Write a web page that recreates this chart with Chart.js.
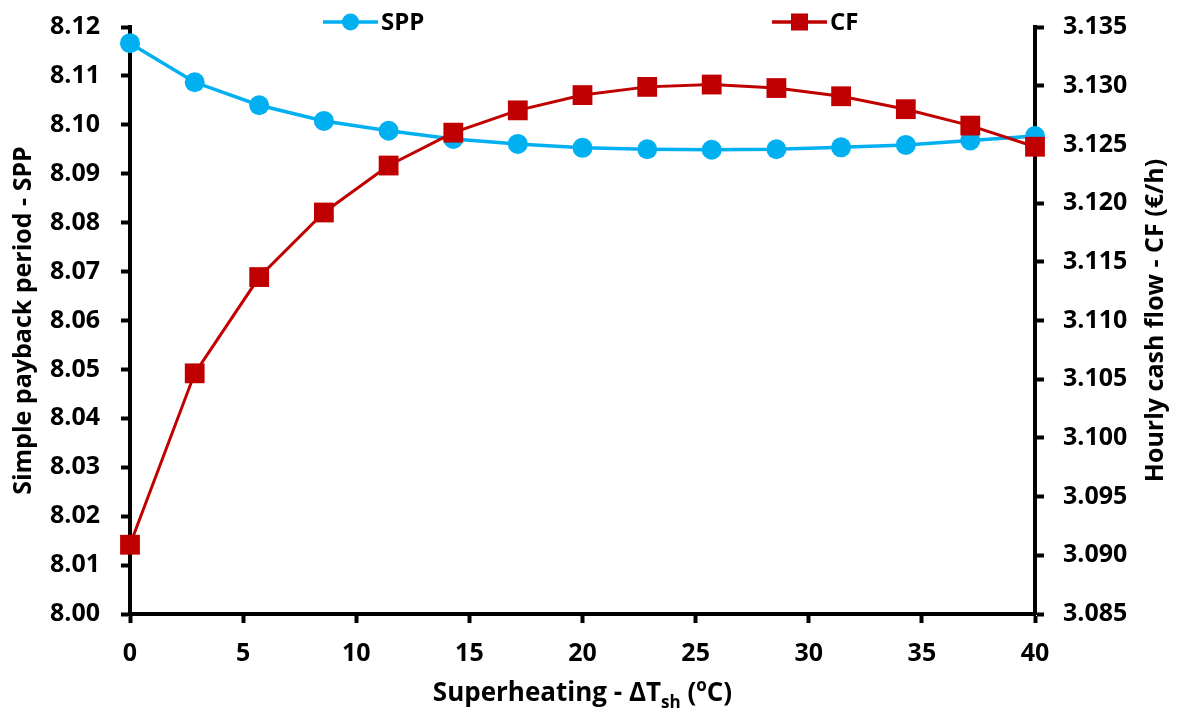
<!DOCTYPE html>
<html>
<head>
<meta charset="utf-8">
<script src="https://cdn.jsdelivr.net/npm/chart.js@4.4.1/dist/chart.umd.min.js"></script>
<style>
  html, body { margin: 0; padding: 0; background: #ffffff; }
  #wrap { width: 1178px; height: 709px; position: relative; }
</style>
</head>
<body>
<div id="wrap"><canvas id="chart" width="1178" height="709"></canvas></div>
<script>
const superheating = [0, 2.86, 5.71, 8.57, 11.43, 14.29, 17.14, 20, 22.86, 25.71, 28.57, 31.43, 34.29, 37.14, 40];
const sppValues = [8.1167, 8.1087, 8.1040, 8.1008, 8.0988, 8.0971, 8.0961, 8.0953, 8.0950, 8.0949, 8.0950, 8.0954, 8.0959, 8.0968, 8.0977];
const cfValues = [3.0909, 3.1055, 3.1137, 3.1192, 3.1232, 3.1260, 3.1279, 3.1292, 3.1299, 3.1301, 3.1298, 3.1291, 3.1280, 3.1266, 3.1248];
const xTicks = [0, 5, 10, 15, 20, 25, 30, 35, 40];
const sppTicks = [8.00, 8.01, 8.02, 8.03, 8.04, 8.05, 8.06, 8.07, 8.08, 8.09, 8.10, 8.11, 8.12];
const cfTicks = [3.085, 3.090, 3.095, 3.100, 3.105, 3.110, 3.115, 3.120, 3.125, 3.130, 3.135];

const BLUE = "#00b0f0";
const RED = "#c00000";
const FONT = "'Open Sans', sans-serif";

const toPoints = (values) => values.map((value, index) => ({ x: superheating[index], y: value }));

const axisLook = {
  border: { display: true, color: "#000000", width: 4 },
  grid: { display: true, drawOnChartArea: false, drawTicks: true, tickLength: 9, tickWidth: 4, tickColor: "#000000" },
};

function fitVertical(width) {
  return (scale) => {
    scale.width = width;
    scale.paddingTop = 27;
    scale.paddingBottom = 0;
  };
}

const annotations = {
  id: "annotations",
  afterDraw(chart) {
    const ctx = chart.ctx;
    const area = chart.chartArea;
    ctx.save();
    ctx.fillStyle = "#000000";
    ctx.textBaseline = "middle";

    // legend
    const legendItems = [
      { label: "SPP", color: BLUE, shape: "circle", from: 323, to: 378 },
      { label: "CF", color: RED, shape: "square", from: 772, to: 827 },
    ];
    legendItems.forEach((item) => {
      const y = 22;
      const mid = (item.from + item.to) / 2;
      ctx.strokeStyle = item.color;
      ctx.lineWidth = 3.5;
      ctx.beginPath();
      ctx.moveTo(item.from, y);
      ctx.lineTo(item.to, y);
      ctx.stroke();
      ctx.fillStyle = item.color;
      if (item.shape === "circle") {
        ctx.beginPath();
        ctx.arc(mid, y, 8.5, 0, Math.PI * 2);
        ctx.fill();
      } else {
        ctx.fillRect(mid - 8.5, y - 8.5, 17, 17);
      }
      ctx.fillStyle = "#000000";
      ctx.font = `bold 24px ${FONT}`;
      ctx.textAlign = "left";
      ctx.fillText(item.label, item.to + 3, y + 1);
    });

    // right axis title, reading bottom to top
    ctx.save();
    ctx.translate(1156, (area.top + area.bottom) / 2);
    ctx.rotate(-Math.PI / 2);
    ctx.font = `bold 25px ${FONT}`;
    ctx.textAlign = "center";
    ctx.fillText("Hourly cash flow - CF (€/h)", 0, 0);
    ctx.restore();

    // x axis title with subscript and superscript
    const big = `bold 26px ${FONT}`;
    const small = `bold 17px ${FONT}`;
    const parts = [
      { text: "Superheating - ΔT", font: big, dy: 0 },
      { text: "sh", font: small, dy: 7 },
      { text: " (", font: big, dy: 0 },
      { text: "o", font: small, dy: -10 },
      { text: "C)", font: big, dy: 0 },
    ];
    let total = 0;
    parts.forEach((part) => {
      ctx.font = part.font;
      part.width = ctx.measureText(part.text).width;
      total += part.width;
    });
    let x = (area.left + area.right) / 2 - total / 2;
    ctx.textAlign = "left";
    ctx.textBaseline = "alphabetic";
    parts.forEach((part) => {
      ctx.font = part.font;
      ctx.fillText(part.text, x, 701 + part.dy);
      x += part.width;
    });
    ctx.restore();
  },
};

new Chart(document.getElementById("chart"), {
  type: "line",
  data: {
    datasets: [
      {
        label: "CF",
        data: toPoints(cfValues),
        yAxisID: "yCF",
        borderColor: RED,
        backgroundColor: RED,
        borderWidth: 3,
        pointStyle: "rect",
        pointRadius: 14,
        pointHoverRadius: 14,
        pointBorderWidth: 0,
        tension: 0,
        clip: false,
      },
      {
        label: "SPP",
        data: toPoints(sppValues),
        yAxisID: "ySPP",
        borderColor: BLUE,
        backgroundColor: BLUE,
        borderWidth: 3.5,
        pointStyle: "circle",
        pointRadius: 10,
        pointHoverRadius: 10,
        pointBorderWidth: 0,
        tension: 0,
        clip: false,
      },
    ],
  },
  options: {
    responsive: false,
    animation: false,
    events: [],
    layout: { padding: 0 },
    plugins: { legend: { display: false }, tooltip: { enabled: false } },
    scales: {
      x: {
        type: "linear",
        min: 0,
        max: 40,
        afterBuildTicks: (scale) => { scale.ticks = xTicks.map((value) => ({ value })); },
        afterFit: (scale) => {
          scale.height = 95;
          scale.paddingLeft = 0;
          scale.paddingRight = 0;
        },
        ticks: { color: "#000000", font: { family: FONT, size: 25, weight: "bold" }, padding: 16, maxRotation: 0 },
        ...axisLook,
      },
      ySPP: {
        type: "linear",
        position: "left",
        min: 8.0,
        max: 8.12,
        afterBuildTicks: (scale) => { scale.ticks = sppTicks.map((value) => ({ value })); },
        afterFit: fitVertical(130),
        ticks: {
          color: "#000000",
          font: { family: FONT, size: 25, weight: "bold" },
          padding: 21,
          callback: (value) => Number(value).toFixed(2),
        },
        title: {
          display: true,
          text: "Simple payback period - SPP",
          color: "#000000",
          font: { family: FONT, size: 25, weight: "bold" },
          padding: { top: 9, bottom: 0 },
        },
        ...axisLook,
      },
      yCF: {
        type: "linear",
        position: "right",
        min: 3.085,
        max: 3.135,
        afterBuildTicks: (scale) => { scale.ticks = cfTicks.map((value) => ({ value })); },
        afterFit: fitVertical(143),
        ticks: {
          color: "#000000",
          font: { family: FONT, size: 25, weight: "bold" },
          padding: 19,
          callback: (value) => Number(value).toFixed(3),
        },
        ...axisLook,
      },
    },
  },
  plugins: [annotations],
});
</script>
</body>
</html>
